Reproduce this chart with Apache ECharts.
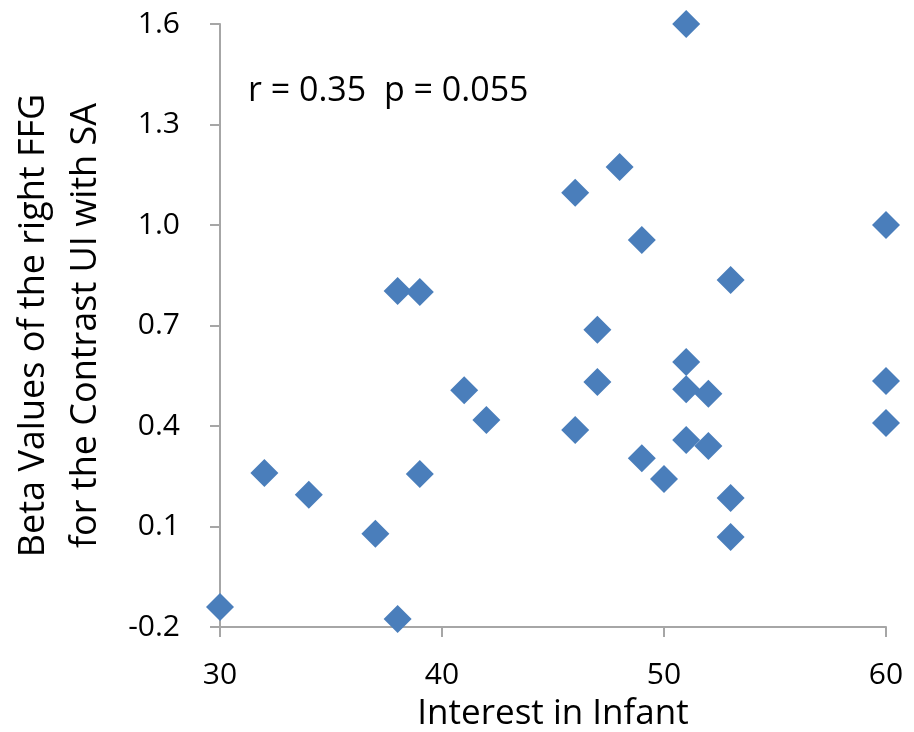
<!DOCTYPE html>
<html>
<head>
<meta charset="utf-8">
<script src="https://cdn.jsdelivr.net/npm/echarts@6/dist/echarts.min.js"></script>
<style>html,body{margin:0;padding:0;background:#fff}#c{width:914px;height:732px}</style>
</head>
<body>
<div id="c"></div>
<script>
var interest = [30,32,34,37,38,38,39,39,41,42,46,46,47,47,48,49,49,50,51,51,51,51,52,52,53,53,53,60,60,60];
var beta = [-0.14,0.26,0.195,0.078,-0.176,0.803,0.80,0.257,0.507,0.418,1.096,0.388,0.687,0.531,1.173,0.955,0.304,0.242,1.60,0.591,0.51,0.358,0.496,0.34,0.836,0.185,0.069,1.0,0.534,0.409];
var xTicks = [30,40,50,60];
var yTicks = [-0.2,0.1,0.4,0.7,1.0,1.3,1.6];
var annotation = 'r = 0.35  p = 0.055';
var xName = 'Interest in Infant';
var yName = 'Beta Values of the right FFG\nfor the Contrast UI with SA';

var font = "'Open Sans',sans-serif";
var chart = echarts.init(document.getElementById('c'));
chart.setOption({
  animation:false,
  grid:{left:220,right:28,top:24,bottom:105,containLabel:false,outerBoundsMode:'none'},
  xAxis:{type:'value',min:xTicks[0],max:xTicks[xTicks.length-1],interval:10,
    name:xName,nameLocation:'middle',nameGap:70,
    nameTextStyle:{fontFamily:font,fontSize:35,color:'#000'},
    axisLine:{onZero:false,lineStyle:{color:'#a6a6a6',width:2}},
    axisTick:{show:true,length:10,lineStyle:{color:'#a6a6a6',width:2}},
    axisLabel:{fontFamily:font,fontSize:30,color:'#000',margin:33},
    splitLine:{show:false}},
  yAxis:{type:'value',min:yTicks[0],max:yTicks[yTicks.length-1],interval:0.3,
    name:yName,nameLocation:'middle',nameGap:108,nameRotate:90,
    nameTextStyle:{fontFamily:font,fontSize:36,color:'#000',lineHeight:52,align:'center'},
    axisLine:{show:true,onZero:false,lineStyle:{color:'#a6a6a6',width:2}},
    axisTick:{show:true,length:10,lineStyle:{color:'#a6a6a6',width:2}},
    axisLabel:{fontFamily:font,fontSize:30,color:'#000',margin:40,
      formatter:function(v){return v.toFixed(1);}},
    splitLine:{show:false}},
  graphic:[{type:'text',left:248,top:74,style:{text:annotation,fontFamily:font,fontSize:34,fill:'#000'}}],
  series:[{type:'scatter',symbol:'diamond',symbolSize:28,
    itemStyle:{color:'#4a7ebb',opacity:1},
    data:interest.map(function(x,i){return [x,beta[i]];})}]
});
</script>
</body>
</html>
